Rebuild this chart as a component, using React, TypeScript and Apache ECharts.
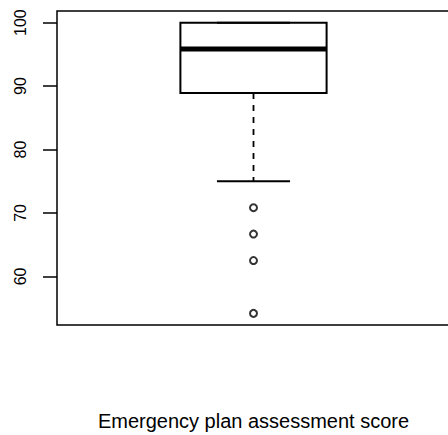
import { useEffect, useRef } from "react";
import * as echarts from "echarts";

const categories = ["score"];
// [lower whisker, Q1, median, Q3, upper whisker]
const boxStats = [[75, 88.9, 95.83, 100, 100]];
const outliers = [70.83, 66.67, 62.5, 54.17];
const yTicks = [60, 70, 80, 90, 100];
const xTitle = "Emergency plan assessment score";

export default function App() {
  const ref = useRef<HTMLDivElement>(null);
  useEffect(() => {
    const chart = echarts.init(ref.current!, null, { renderer: "svg" });
    const all = [...boxStats.flat(), ...outliers];
    const lo = Math.min(...all);
    const hi = Math.max(...all);
    const pad = 0.04 * (hi - lo);
    chart.setOption({
      animation: false,
      backgroundColor: "#fff",
      grid: {
        left: 57,
        top: 11,
        width: 393,
        height: 314,
        outerBoundsMode: "none",
        containLabel: false,
        show: true,
        borderColor: "#000",
        borderWidth: 1.5,
        backgroundColor: "transparent",
      },
      xAxis: {
        type: "category",
        data: categories,
        name: xTitle,
        nameLocation: "middle",
        nameGap: 86,
        nameTextStyle: {
          fontSize: 20,
          color: "#000",
          fontFamily: "Liberation Sans",
        },
        axisLine: { show: false },
        axisTick: { show: false },
        axisLabel: { show: false },
        splitLine: { show: false },
      },
      yAxis: {
        type: "value",
        min: lo - pad,
        max: hi + pad,
        axisLine: { show: false },
        splitLine: { show: false },
        axisTick: {
          show: true,
          length: 14,
          lineStyle: { color: "#000", width: 1.5 },
          customValues: yTicks,
        },
        axisLabel: {
          rotate: 90,
          margin: 29,
          customValues: yTicks,
          fontSize: 16,
          color: "#000",
          fontFamily: "Liberation Sans",
        },
      },
      series: [
        {
          type: "custom",
          data: boxStats.map((s, i) => [i, ...s]),
          encode: { x: 0, y: [1, 2, 3, 4, 5] },
          renderItem: (params: any, api: any) => {
            const x = api.value(0);
            const lw = api.value(1);
            const q1 = api.value(2);
            const med = api.value(3);
            const q3 = api.value(4);
            const uw = api.value(5);
            const band = api.size([1, 0])[0];
            const half = band * 0.186;
            const cap = half / 2;
            const pLW = api.coord([x, lw]);
            const pQ1 = api.coord([x, q1]);
            const pMed = api.coord([x, med]);
            const pQ3 = api.coord([x, q3]);
            const pUW = api.coord([x, uw]);
            const c = pQ1[0];
            const line = (x1: number, y1: number, x2: number, y2: number, style: any) => ({
              type: "line",
              shape: { x1, y1, x2, y2 },
              style: { stroke: "#000", lineWidth: 2, ...style },
            });
            return {
              type: "group",
              children: [
                line(c, pQ1[1], c, pLW[1], { lineDash: [6, 6], lineWidth: 1.8 }),
                line(c, pQ3[1], c, pUW[1], { lineDash: [6, 6], lineWidth: 1.8 }),
                line(c - cap, pLW[1], c + cap, pLW[1], { lineWidth: 2 }),
                line(c - cap, pUW[1], c + cap, pUW[1], { lineWidth: 2 }),
                {
                  type: "rect",
                  shape: { x: c - half, y: pQ3[1], width: 2 * half, height: pQ1[1] - pQ3[1] },
                  style: { fill: "transparent", stroke: "#000", lineWidth: 2 },
                },
                line(c - half, pMed[1], c + half, pMed[1], { lineWidth: 5 }),
              ],
            };
          },
        },
        {
          type: "scatter",
          data: outliers.map((v) => [0, v]),
          symbol: "circle",
          symbolSize: 7,
          itemStyle: { color: "rgba(0,0,0,0)", borderColor: "#000", borderWidth: 2 },
        },
      ],
    });
    return () => chart.dispose();
  }, []);
  return (
    <div
      ref={ref}
      style={{ position: "fixed", left: 0, top: 0, width: 448, height: 435, background: "#fff" }}
    />
  );
}
